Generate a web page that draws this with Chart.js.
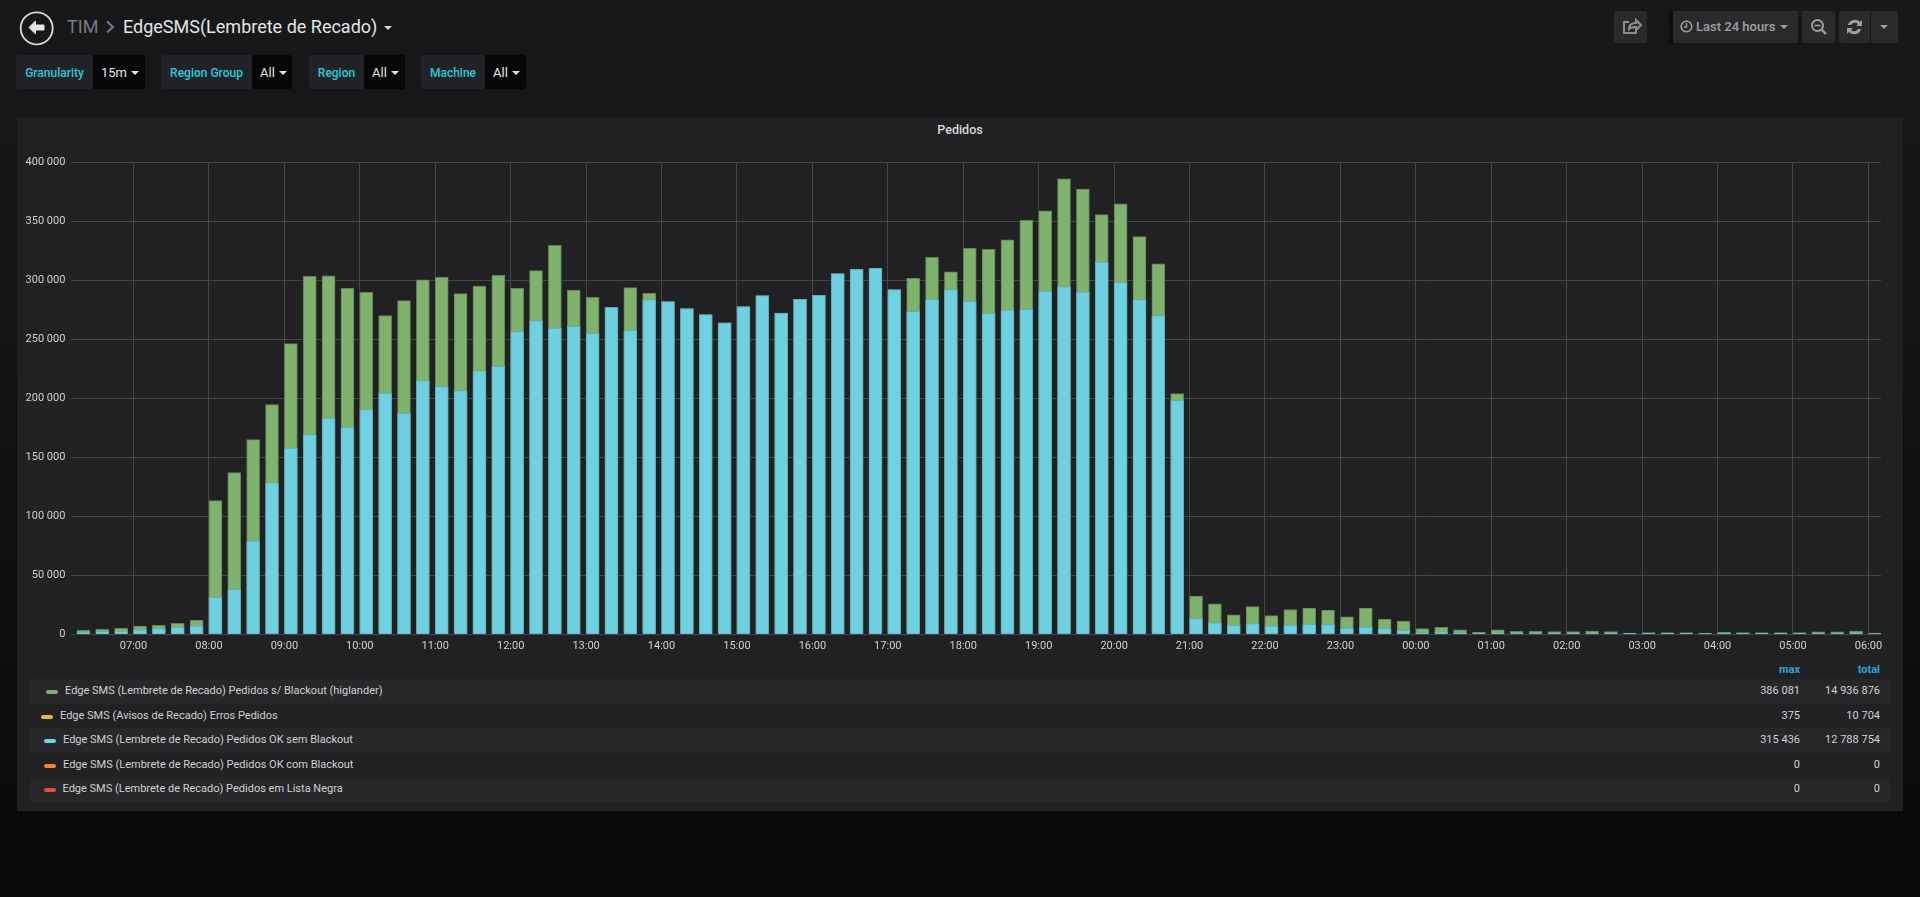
<!DOCTYPE html>
<html>
<head>
<meta charset="utf-8">
<title>EdgeSMS(Lembrete de Recado)</title>
<script src="https://cdn.jsdelivr.net/npm/chart.js@4"></script>
<style>
html, body { margin: 0; height: 100%; overflow: hidden; }
body { width: 1920px; height: 897px; position: relative; font-family: Roboto, sans-serif; color: #d8d9da;
       background: linear-gradient(#17181a 0, #141517 300px, #0a0b0d 760px, #08090b 100%); }
.abs { position: absolute; white-space: nowrap; }
.btn { position: absolute; top: 11px; height: 32px; background: #2a2a2d; border-radius: 2px; }
.filter { position: absolute; top: 55px; height: 34px; border-radius: 3px; overflow: hidden; display: flex; font-size: 12px; line-height: 36px; }
.filter .lab { background: #212226; color: #28c8dc; font-weight: 500; text-align: center; }
.filter .val { background: #070709; color: #e4e5e6; font-size: 13px; flex: 1; padding-left: 8px; }
.caret { display: inline-block; width: 0; height: 0; border: 4px solid transparent; border-top: 4px solid currentColor; border-bottom: 0; vertical-align: 2px; margin-left: 4px; }
#panel { position: absolute; left: 17px; top: 117px; width: 1886px; height: 694px; background: #212124; }
#panelTitle { position: absolute; left: 17px; top: 122px; width: 1886px; text-align: center; font-size: 12.5px; font-weight: 500; line-height: 16px; color: #d8d9da; }
#chartBox { position: absolute; left: 17px; top: 117px; width: 1886px; height: 545px; }
.row { position: absolute; left: 30px; width: 1860px; height: 25px; line-height: 23px; font-size: 11px; color: #d0d1d2; }
.row.alt { background: #27272a; }
.row .sw { position: absolute; top: 11px; width: 12px; height: 4px; border-radius: 2px; }
.row .name { position: absolute; white-space: nowrap; }
.row .max { position: absolute; right: 90px; line-height: 24px; }
.row .total { position: absolute; right: 10px; line-height: 24px; }
.head { position: absolute; top: 663px; font-size: 11px; font-weight: 700; color: #2aa5d8; }
</style>
</head>
<body>

<!-- top bar -->
<svg class="abs" style="left:19px;top:10px" width="36" height="36" viewBox="0 0 36 36">
  <circle cx="17.7" cy="18.3" r="16" fill="none" stroke="#d8d9da" stroke-width="1.8"/>
  <path d="M16.500 11 L10 17.500 L16.500 24 L16.500 20 L25 20 L25 15 L16.500 15 Z" fill="#e4e5e6" stroke="#e4e5e6" stroke-linejoin="round"/>
</svg>
<div class="abs" style="left:67px;top:16px;font-size:18px;color:#7b7b7e">TIM</div>
<svg class="abs" style="left:105px;top:20px" width="10" height="14" viewBox="0 0 10 14"><path d="M2 1.500 L8 7 L2 12.500" fill="none" stroke="#7b7b7e" stroke-width="2"/></svg>
<div class="abs" style="left:123px;top:16px;font-size:18px;color:#e4e5e6">EdgeSMS(Lembrete de Recado)</div>
<div class="abs" style="left:380px;top:21px;color:#d8d9da;font-size:12px"><span class="caret"></span></div>

<div class="btn" style="left:1614px;width:33px">
  <svg width="33" height="32" viewBox="0 0 33 32"><path d="M22 17 v5 h-12 v-11 h5 M15 18 c0-4 3-6 7-6 v-3 l5 5 -5 5 v-3 c-3 0-5 0-7 2z" fill="none" stroke="#8e8e8e" stroke-width="2"/></svg>
</div>
<div class="abs" style="left:1669px;top:11px;width:4px;height:32px;background:#0d0e10"></div>
<div class="btn" style="left:1673px;width:125px;color:#a0a0a2;font-size:13px;font-weight:500;line-height:32px">
  <svg style="position:absolute;left:7px;top:9px" width="13" height="13" viewBox="0 0 13 13"><circle cx="6.500" cy="6.500" r="5.300" fill="none" stroke="#a0a0a2" stroke-width="1.500"/><path d="M6.500 3 v4 h-2.500" fill="none" stroke="#a0a0a2" stroke-width="1.300"/></svg>
  <span style="position:absolute;left:23px">Last 24 hours</span>
  <span class="caret" style="position:absolute;left:103px;top:14px"></span>
</div>
<div class="btn" style="left:1802px;width:33px">
  <svg width="33" height="32" viewBox="0 0 33 32"><circle cx="15.500" cy="14.500" r="5.500" fill="none" stroke="#a0a0a2" stroke-width="2"/><path d="M12.500 14.500 h6" stroke="#a0a0a2" stroke-width="1.600"/><path d="M19.500 18.500 L24 23" stroke="#a0a0a2" stroke-width="2.400"/></svg>
</div>
<div class="btn" style="left:1839px;width:31px;border-radius:2px 0 0 2px">
  <svg width="31" height="32" viewBox="0 0 31 32"><path d="M9 14 a7 7 0 0 1 12-3 l2-2 v6 h-6 l2-2 a4.500 4.500 0 0 0-7 1z M22 18 a7 7 0 0 1-12 3 l-2 2 v-6 h6 l-2 2 a4.500 4.500 0 0 0 7-1z" fill="#a0a0a2"/></svg>
</div>
<div class="btn" style="left:1871px;width:27px;border-radius:0 2px 2px 0;color:#a0a0a2">
  <span class="caret" style="position:absolute;left:5px;top:14px"></span>
</div>

<!-- template variables -->
<div class="filter" style="left:16px;width:129px"><div class="lab" style="width:77px">Granularity</div><div class="val">15m<span class="caret"></span></div></div>
<div class="filter" style="left:161px;width:131px"><div class="lab" style="width:91px">Region Group</div><div class="val">All<span class="caret"></span></div></div>
<div class="filter" style="left:309px;width:96px"><div class="lab" style="width:55px">Region</div><div class="val">All<span class="caret"></span></div></div>
<div class="filter" style="left:421px;width:105px"><div class="lab" style="width:64px">Machine</div><div class="val">All<span class="caret"></span></div></div>

<div id="panel"></div>
<div id="panelTitle">Pedidos</div>
<div id="chartBox"><canvas id="chart"></canvas></div>
<div class="head" style="right:120px">max</div>
<div class="head" style="right:40px">total</div>
<div id="legend"></div>

<script>
const times = [
    '06:15', '06:30', '06:45', '07:00', '07:15', '07:30', '07:45', '08:00',
    '08:15', '08:30', '08:45', '09:00', '09:15', '09:30', '09:45', '10:00',
    '10:15', '10:30', '10:45', '11:00', '11:15', '11:30', '11:45', '12:00',
    '12:15', '12:30', '12:45', '13:00', '13:15', '13:30', '13:45', '14:00',
    '14:15', '14:30', '14:45', '15:00', '15:15', '15:30', '15:45', '16:00',
    '16:15', '16:30', '16:45', '17:00', '17:15', '17:30', '17:45', '18:00',
    '18:15', '18:30', '18:45', '19:00', '19:15', '19:30', '19:45', '20:00',
    '20:15', '20:30', '20:45', '21:00', '21:15', '21:30', '21:45', '22:00',
    '22:15', '22:30', '22:45', '23:00', '23:15', '23:30', '23:45', '00:00',
    '00:15', '00:30', '00:45', '01:00', '01:15', '01:30', '01:45', '02:00',
    '02:15', '02:30', '02:45', '03:00', '03:15', '03:30', '03:45', '04:00',
    '04:15', '04:30', '04:45', '05:00', '05:15', '05:30', '05:45', '06:00'
];

// Pedidos s/ Blackout (higlander)
const pedidosTotal = [
    3400, 4200, 5100, 7000, 7600, 9300, 12100, 113300,
    137000, 165000, 194600, 246300, 303400, 303700, 293200, 289800,
    270000, 282800, 300300, 302500, 288700, 295200, 304200, 293200,
    308200, 329700, 291800, 285600, 277100, 293800, 289000, 281900,
    276000, 270900, 263900, 277700, 287000, 272300, 283900, 287300,
    305700, 309300, 310200, 292100, 301700, 319500, 307100, 327100,
    326300, 334200, 350900, 358800, 386081, 377400, 355700, 364700,
    337000, 313900, 204000, 32300, 25800, 16400, 23400, 15800,
    20900, 22300, 20600, 14700, 22300, 13000, 11300, 4800,
    5900, 3700, 1700, 3700, 2500, 2500, 2300, 2300,
    2800, 2300, 1100, 1400, 1400, 1400, 1100, 1700,
    1400, 1400, 1400, 1400, 2000, 2000, 2800, 1100
];

// Pedidos OK sem Blackout
const pedidosOk = [
    1700, 2500, 2800, 3700, 4800, 5900, 7100, 31400,
    38100, 79100, 128300, 157900, 169200, 183300, 175700, 190400,
    204500, 187300, 215000, 209900, 206500, 223200, 227100, 256500,
    265600, 259600, 261000, 255100, 277100, 257600, 283600, 281900,
    276000, 270900, 263900, 277700, 287000, 272300, 283900, 287300,
    305700, 309300, 310200, 292100, 273700, 283900, 292100, 282200,
    272000, 274900, 275400, 290700, 294600, 290100, 315436, 298300,
    283600, 270100, 198300, 13300, 9800, 7600, 9000, 7100,
    7900, 8500, 8200, 5100, 6200, 4800, 3400, 1400,
    2000, 1400, 1000, 1200, 1000, 1000, 900, 900,
    900, 900, 800, 800, 800, 800, 700, 800,
    800, 800, 800, 800, 900, 900, 1400, 700
];

const hourLabels = [
    '07:00', '08:00', '09:00', '10:00', '11:00', '12:00', '13:00', '14:00',
    '15:00', '16:00', '17:00', '18:00', '19:00', '20:00', '21:00', '22:00',
    '23:00', '00:00', '01:00', '02:00', '03:00', '04:00', '05:00', '06:00'
];

const yTicks = [0, 50000, 100000, 150000, 200000, 250000, 300000, 350000, 400000];

const legendNames = [
    'Edge SMS (Lembrete de Recado) Pedidos s/ Blackout (higlander)',
    'Edge SMS (Avisos de Recado) Erros Pedidos',
    'Edge SMS (Lembrete de Recado) Pedidos OK sem Blackout',
    'Edge SMS (Lembrete de Recado) Pedidos OK com Blackout',
    'Edge SMS (Lembrete de Recado) Pedidos em Lista Negra'
];
const legendColors = ['#7EB26D', '#EAB839', '#6ED0E0', '#EF843C', '#E24D42'];
const legendMax = ['386 081', '375', '315 436', '0', '0'];
const legendTotal = ['14 936 876', '10 704', '12 788 754', '0', '0'];
// where the swatch and the text start in each row (they follow the table's auto width)
const legendSwatchX = [16, 11, 14, 14, 14];
const legendTextX = [35, 30, 33, 33, 32.5];
const legendRowY = [679, 704, 728, 753, 777];

// the time axis runs past midnight, so early hours count as the next day
function toMinutes(label) {
    const [h, m] = label.split(':').map(Number);
    const mins = h * 60 + m;
    return mins < 375 ? mins + 1440 : mins;
}

function formatTime(value) {
    const mins = value % 1440;
    const h = String(Math.floor(mins / 60)).padStart(2, '0');
    const m = String(mins % 60).padStart(2, '0');
    return `${h}:${m}`;
}

function formatThousands(value) {
    return String(value).replace(/\B(?=(\d{3})+$)/g, ' ');
}

function toPoints(values) {
    return values.map((v, i) => ({ x: toMinutes(times[i]), y: v }));
}

function buildLegend() {
    const box = document.getElementById('legend');
    legendNames.forEach((name, i) => {
        const row = document.createElement('div');
        row.className = 'row' + (i % 2 === 0 ? ' alt' : '');
        row.style.top = legendRowY[i] + 'px';
        row.innerHTML = `<span class="sw" style="left:${legendSwatchX[i]}px;background:${legendColors[i]}"></span>
            <span class="name" style="left:${legendTextX[i]}px">${name}</span>
            <span class="max">${legendMax[i]}</span>
            <span class="total">${legendTotal[i]}</span>`;
        box.appendChild(row);
    });
}

// grafana draws the bar from its timestamp to the right, chart.js centres it
const leftAlignBars = {
    id: 'leftAlignBars',
    afterDatasetsUpdate(chart) {
        chart.getSortedVisibleDatasetMetas().forEach(meta => {
            meta.data.forEach(bar => { bar.x += bar.width / 2; });
        });
    }
};

buildLegend();

new Chart(document.getElementById('chart'), {
    type: 'bar',
    data: {
        datasets: [
            {
                label: legendNames[2],
                data: toPoints(pedidosOk),
                backgroundColor: '#6ED0E0',
                borderColor: '#5fabb8',
                borderWidth: 1,
                order: 1
            },
            {
                label: legendNames[0],
                data: toPoints(pedidosTotal),
                backgroundColor: '#7EB26D',
                borderColor: '#5f8653',
                borderWidth: 1,
                order: 2
            }
        ]
    },
    plugins: [leftAlignBars],
    options: {
        responsive: true,
        maintainAspectRatio: false,
        animation: false,
        grouped: false,
        barThickness: 13,
        layout: { padding: { left: 0, right: 22, top: 45.3, bottom: 0 } },
        plugins: {
            legend: { display: false },
            tooltip: { enabled: false }
        },
        scales: {
            x: {
                type: 'linear',
                offset: false,
                min: 370.6,
                max: 1810,
                afterBuildTicks: axis => {
                    axis.ticks = hourLabels.map(label => ({ value: toMinutes(label) }));
                },
                afterFit: axis => { axis.height = 27.7; },
                grid: { color: '#464648', drawTicks: false, offset: false },
                border: { display: false },
                ticks: {
                    autoSkip: false,
                    maxRotation: 0,
                    padding: 5,
                    color: '#d0d1d2',
                    font: { family: 'Roboto', size: 11 },
                    callback: value => formatTime(value)
                }
            },
            y: {
                min: 0,
                max: 400000,
                afterBuildTicks: axis => {
                    axis.ticks = yTicks.map(value => ({ value }));
                },
                afterFit: axis => { axis.width = 54.4; },
                grid: { color: '#464648', drawTicks: false },
                border: { display: false },
                ticks: {
                    padding: 6,
                    color: '#d0d1d2',
                    font: { family: 'Roboto', size: 11 },
                    callback: value => formatThousands(value)
                }
            }
        }
    }
});
</script>
</body>
</html>
